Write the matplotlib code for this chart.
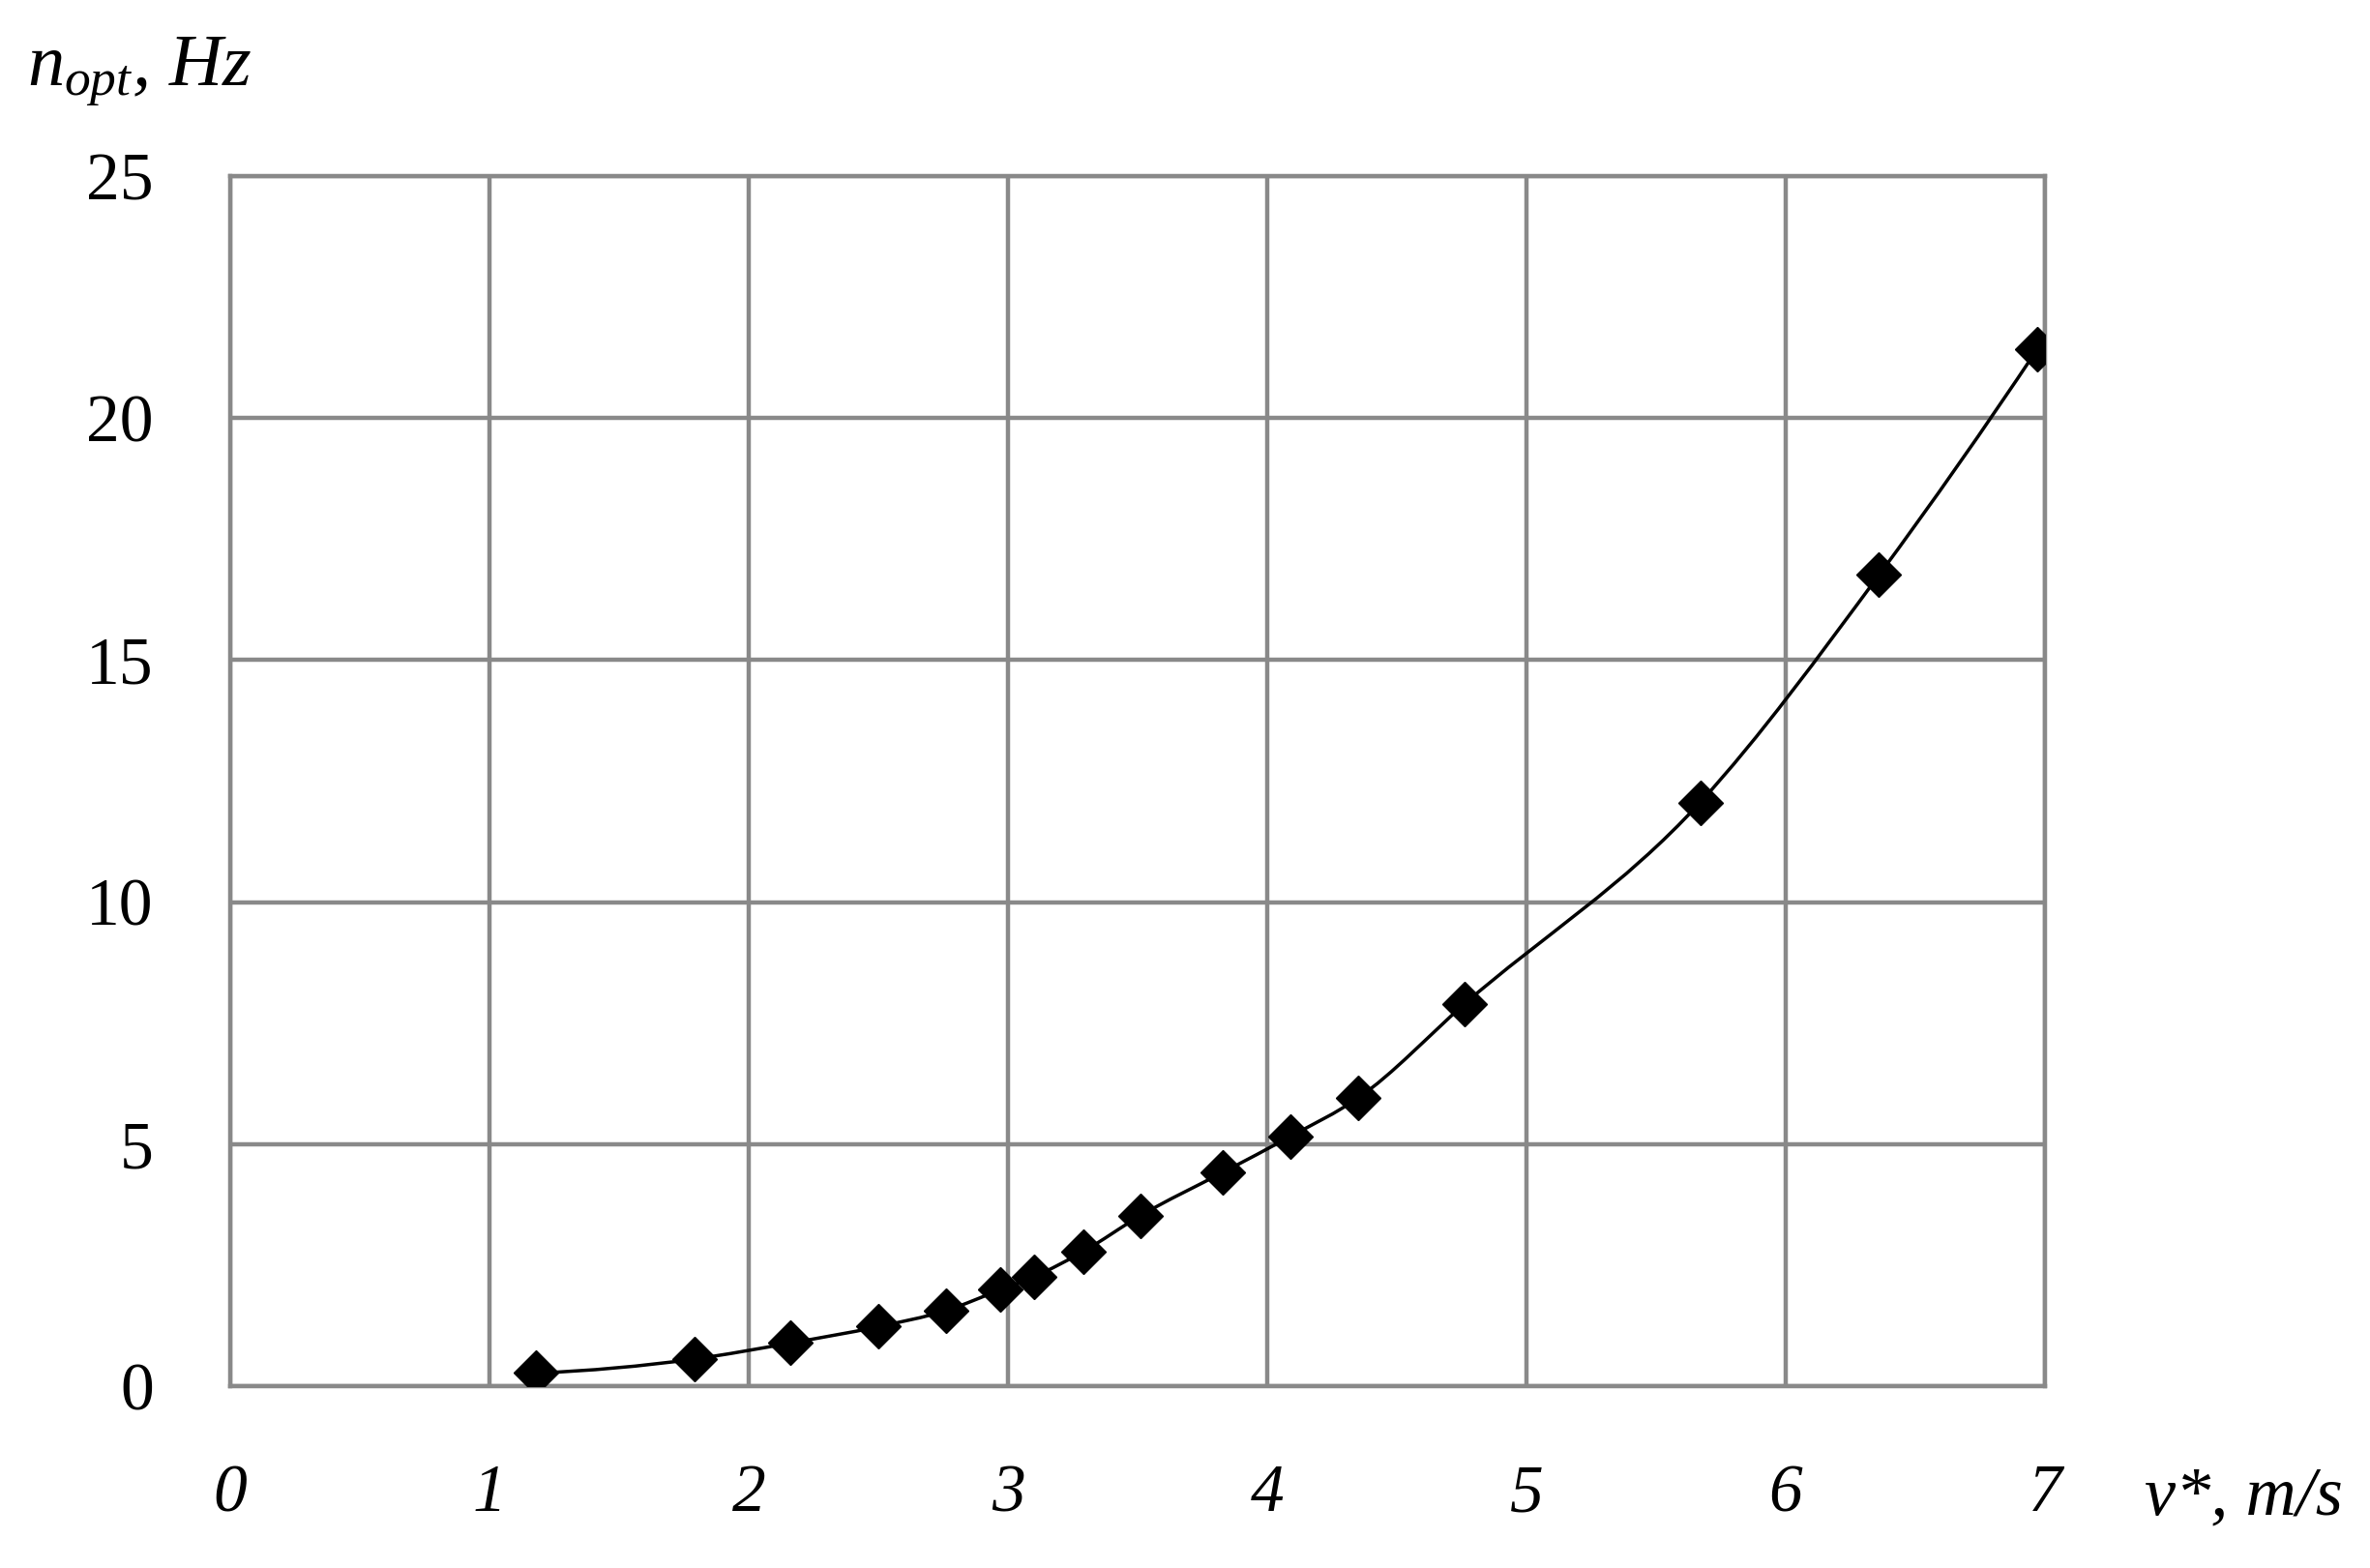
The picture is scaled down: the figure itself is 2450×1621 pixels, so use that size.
import matplotlib
matplotlib.use("Agg")
import matplotlib.pyplot as plt
from matplotlib.path import Path
from matplotlib.patches import PathPatch
import numpy as np

# data
v_speed = [1.18, 1.79, 2.16, 2.50, 2.76, 2.97, 3.10, 3.29, 3.51, 3.83, 4.09, 4.35, 4.76, 5.67, 6.36, 6.97]
n_opt = [0.27, 0.56, 0.89, 1.23, 1.56, 1.99, 2.26, 2.78, 3.52, 4.42, 5.16, 5.95, 7.89, 12.06, 16.76, 21.42]
x_ticks = [0, 1, 2, 3, 4, 5, 6, 7]
y_ticks = [0, 5, 10, 15, 20, 25]

plt.rcParams['mathtext.fontset'] = 'custom'
plt.rcParams['mathtext.rm'] = 'Liberation Serif'
plt.rcParams['mathtext.it'] = 'Liberation Serif:italic'

W, H = 2450, 1621
fig = plt.figure(figsize=(W / 100, H / 100), dpi=100)
ax = fig.add_axes([238 / W, 1 - 1433 / H, (2114 - 238) / W, (1433 - 182) / H])

ax.set_xlim(0, 7)
ax.set_ylim(0, 25)
ax.set_xticks(x_ticks)
ax.set_yticks(y_ticks)
grid_c = '#898989'
ax.grid(True, color=grid_c, linewidth=3.2)
ax.set_axisbelow(True)
for s in ax.spines.values():
    s.set_color(grid_c)
    s.set_linewidth(3.2)
ax.tick_params(length=0)
ax.tick_params(axis='y', pad=57)
ax.tick_params(axis='x', pad=58)
for lab in ax.get_yticklabels():
    lab.set_fontfamily('Liberation Serif')
    lab.set_fontsize(50)
for lab in ax.get_xticklabels():
    lab.set_fontfamily('Liberation Serif')
    lab.set_fontstyle('italic')
    lab.set_fontsize(50)

# smooth curve through the points: cubic Hermite (as Bezier) with weighted 3-point slopes
x = np.array(v_speed)
y = np.array(n_opt)
h = np.diff(x)
delta = np.diff(y) / h
d = np.zeros_like(y)
d[1:-1] = (h[:-1] * delta[1:] + h[1:] * delta[:-1]) / (h[:-1] + h[1:])
d[0] = 2 * delta[0] - d[1]
d[-1] = 2 * delta[-1] - d[-2]
verts = [(x[0], y[0])]
codes = [Path.MOVETO]
for i in range(len(x) - 1):
    verts += [(x[i] + h[i] / 3, y[i] + d[i] * h[i] / 3),
              (x[i + 1] - h[i] / 3, y[i + 1] - d[i + 1] * h[i] / 3),
              (x[i + 1], y[i + 1])]
    codes += [Path.CURVE4] * 3
ax.add_patch(PathPatch(Path(verts, codes), fill=False, edgecolor='black', linewidth=2.5, zorder=3))

ax.plot(v_speed, n_opt, linestyle='none', marker='D', markersize=23,
        markerfacecolor='black', markeredgecolor='black', markeredgewidth=1, zorder=4)

fig.text(28 / W, 1 - 88 / H, r'$n_{opt}$, Hz', fontfamily='Liberation Serif', fontstyle='italic',
         fontsize=55, ha='left', va='baseline')
fig.text(2217 / W, 1 - 1565 / H, 'v*, m/s', fontfamily='Liberation Serif', fontstyle='italic',
         fontsize=52, ha='left', va='baseline')

fig.savefig('out.png', dpi=100, facecolor='white')
